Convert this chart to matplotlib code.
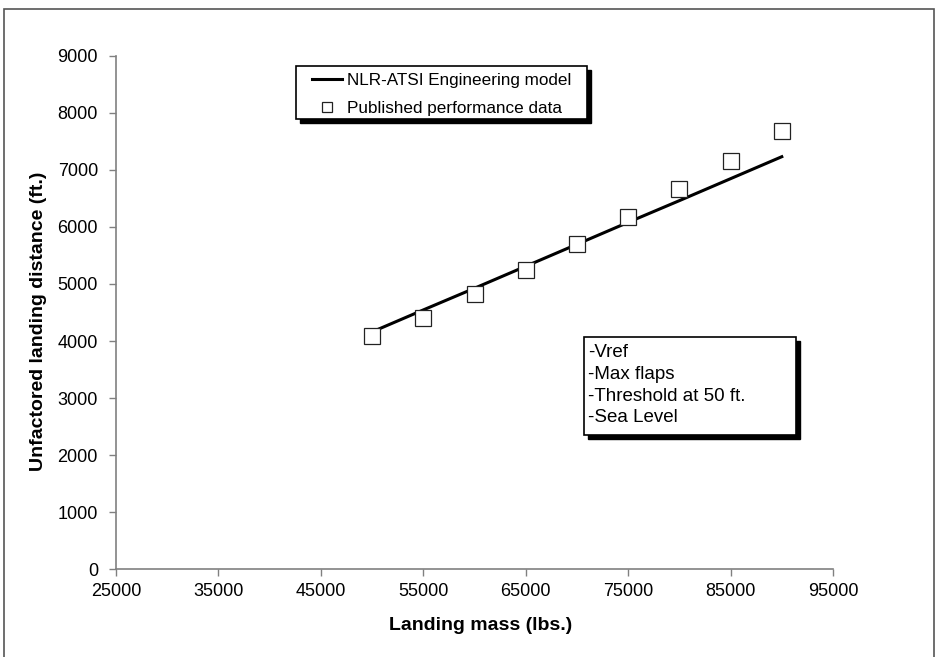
import matplotlib
matplotlib.use("Agg")
import matplotlib.pyplot as plt
from matplotlib.patches import Rectangle
from matplotlib.lines import Line2D

plt.rcParams['font.family'] = ['Liberation Sans', 'DejaVu Sans']

# Data
mass = [50000, 55000, 60000, 65000, 70000, 75000, 80000, 85000, 90000]
model_distance = [4160, 4545, 4925, 5310, 5695, 6080, 6460, 6845, 7230]
published_distance = [4090, 4410, 4820, 5250, 5700, 6180, 6660, 7150, 7680]
x_ticks = [25000, 35000, 45000, 55000, 65000, 75000, 85000, 95000]
y_ticks = [0, 1000, 2000, 3000, 4000, 5000, 6000, 7000, 8000, 9000]
series_names = ['NLR-ATSI Engineering model', 'Published performance data']
conditions = ["-Vref", "-Max flaps", "-Threshold at 50 ft.", "-Sea Level"]

W, H = 951, 657
AX_L, AX_R, AX_T, AX_B = 116, 833, 55.7, 569.3
fig = plt.figure(figsize=(W / 100, H / 100), dpi=100)
ax = fig.add_axes([AX_L / W, 1 - AX_B / H, (AX_R - AX_L) / W, (AX_B - AX_T) / H])


def ax_frac(px, py):
    return (px - AX_L) / (AX_R - AX_L), (AX_B - py) / (AX_B - AX_T)


def ax_w(px):
    return px / (AX_R - AX_L)


def ax_h(py):
    return py / (AX_B - AX_T)


# outer frame
fig.patches.append(Rectangle((4 / W, -0.01), (934 - 4) / W, 1 - 9 / H + 0.01,
                             transform=fig.transFigure, fill=False,
                             edgecolor='#555555', linewidth=1.2))

line, = ax.plot(mass, model_distance, color='black', linewidth=2.2,
                label=series_names[0], zorder=2)
pts, = ax.plot(mass, published_distance, linestyle='none', marker='s',
               markersize=11, markerfacecolor='white', markeredgecolor='#222222',
               markeredgewidth=0.9, label=series_names[1], zorder=3)

ax.set_xlim(25000, 95000)
ax.set_ylim(0, 9000)
ax.set_xticks(x_ticks)
ax.set_yticks(y_ticks)
ax.set_xticklabels([str(t) for t in x_ticks])
ax.set_yticklabels([str(t) for t in y_ticks])
ax.tick_params(axis='both', direction='out', length=5, width=1.0,
               color='#808080', labelsize=13)
ax.tick_params(axis='y', pad=8)
ax.tick_params(axis='x', pad=5)
for s in ['top', 'right']:
    ax.spines[s].set_visible(False)
for s in ['left', 'bottom']:
    ax.spines[s].set_color('#808080')
    ax.spines[s].set_linewidth(1.2)

ax.set_xlabel('Landing mass (lbs.)', fontsize=14, fontweight='bold')
ax.set_ylabel('Unfactored landing distance (ft.)', fontsize=14, fontweight='bold')
ax.xaxis.set_label_coords(*ax_frac(481, 617))
ax.yaxis.set_label_coords(*ax_frac(47, 321))

# legend (drawn as a framed key)
lx0, ly0 = ax_frac(296, 119)
lw, lh = ax_w(587 - 296), ax_h(119 - 66)
ax.add_patch(Rectangle((lx0 + ax_w(4), ly0 - ax_h(4)), lw, lh, transform=ax.transAxes,
                       facecolor='black', edgecolor='black', zorder=4, clip_on=False))
ax.add_patch(Rectangle((lx0, ly0), lw, lh, transform=ax.transAxes,
                       facecolor='white', edgecolor='black', linewidth=1.2, zorder=5,
                       clip_on=False))
r1 = ax_frac(312, 79)
r1b = ax_frac(342, 79)
r2 = ax_frac(327, 107)
ax.add_line(Line2D([r1[0], r1b[0]], [r1[1], r1b[1]], transform=ax.transAxes,
                   color=line.get_color(), linewidth=line.get_linewidth(), zorder=6))
ax.add_line(Line2D([r2[0]], [r2[1]], transform=ax.transAxes, linestyle='none',
                   marker='s', markersize=7.5, markerfacecolor='white',
                   markeredgecolor='#222222', markeredgewidth=0.9, zorder=6))
tx = ax_frac(347, 0)[0]
ax.text(tx, r1[1], series_names[0], transform=ax.transAxes, ha='left', va='center_baseline',
        fontsize=12.3, zorder=6)
ax.text(tx, r2[1], series_names[1], transform=ax.transAxes, ha='left', va='center_baseline',
        fontsize=12.3, zorder=6)

# condition box
bx0, by0 = ax_frac(584, 435)
bw, bh = ax_w(796 - 584), ax_h(435 - 337)
ax.add_patch(Rectangle((bx0 + ax_w(4), by0 - ax_h(4)), bw, bh, transform=ax.transAxes,
                       facecolor='black', edgecolor='black', zorder=4))
ax.add_patch(Rectangle((bx0, by0), bw, bh, transform=ax.transAxes,
                       facecolor='white', edgecolor='black', linewidth=1.2, zorder=5))
ax.text(bx0 + ax_w(4), by0 + bh - ax_h(7), "\n".join(conditions), transform=ax.transAxes,
        ha='left', va='top', fontsize=13.5, linespacing=1.37, zorder=6)

fig.savefig('out.png', dpi=100)
